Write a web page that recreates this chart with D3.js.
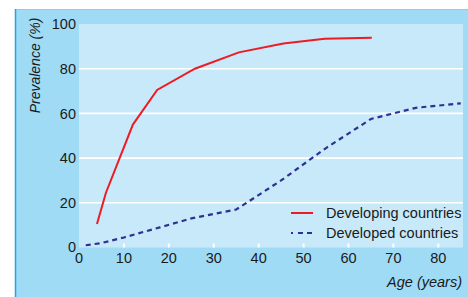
<!DOCTYPE html>
<html>
<head>
<meta charset="utf-8">
<script src="https://cdn.jsdelivr.net/npm/d3@7"></script>
<style>
  body { margin: 0; background: #fff; }
  svg text { font-family: "Liberation Sans", Arial, sans-serif; fill: #1a1a1a; }
</style>
</head>
<body>
<div id="chart"></div>
<script>
// data (age in years, prevalence in %)
var developingAge = [4, 6, 12, 17.4, 25.8, 35.6, 45.5, 54.7, 65.2];
var developingVal = [10.5, 24.5, 55, 70.5, 80, 87.3, 91.3, 93.4, 93.8];
var developedAge = [1.5, 5, 10, 18, 25, 35, 45, 55, 65, 75, 85];
var developedVal = [1, 2, 4.5, 9, 13, 17, 30, 44.5, 57.5, 62.5, 64.5];
var xTicks = [0, 10, 20, 30, 40, 50, 60, 70, 80];
var yTicks = [0, 20, 40, 60, 80, 100];
var seriesNames = ["Developing countries", "Developed countries"];

var width = 468, height = 297;
var plotLeft = 79, plotRight = 463, plotTop = 24, plotBottom = 247.5;

var x = d3.scaleLinear().domain([0, 85.5]).range([plotLeft, plotRight]);
var y = d3.scaleLinear().domain([0, 100]).range([plotBottom, plotTop]);

var svg = d3.select("#chart").append("svg")
  .attr("width", width)
  .attr("height", height);

// outer panel
svg.append("rect")
  .attr("x", 15).attr("y", 9)
  .attr("width", width - 15).attr("height", height - 9)
  .attr("fill", "#a0dbf6");
svg.append("line")
  .attr("x1", 15).attr("x2", width).attr("y1", 9.5).attr("y2", 9.5)
  .attr("stroke", "#86cff1").attr("stroke-width", 1);
svg.append("line")
  .attr("x1", 15.5).attr("x2", 15.5).attr("y1", 9).attr("y2", height)
  .attr("stroke", "#1ba8e6").attr("stroke-width", 1.5);

// plot area
svg.append("rect")
  .attr("x", plotLeft).attr("y", plotTop)
  .attr("width", plotRight - plotLeft).attr("height", plotBottom - plotTop)
  .attr("fill", "#c7e9f9");

// gridlines
svg.append("g").selectAll("line")
  .data(yTicks.filter(function(d) { return d > 0 && d < 100; }))
  .enter().append("line")
  .attr("x1", plotLeft).attr("x2", plotRight)
  .attr("y1", function(d) { return y(d); })
  .attr("y2", function(d) { return y(d); })
  .attr("stroke", "#fff").attr("stroke-width", 1.6);

// small x ticks
svg.append("g").selectAll("line")
  .data(xTicks.filter(function(d) { return d > 0; }))
  .enter().append("line")
  .attr("x1", function(d) { return x(d); })
  .attr("x2", function(d) { return x(d); })
  .attr("y1", plotBottom - 4).attr("y2", plotBottom)
  .attr("stroke", "#fff").attr("stroke-width", 2);

// tick labels
svg.append("g").selectAll("text")
  .data(xTicks)
  .enter().append("text")
  .attr("x", function(d) { return x(d); })
  .attr("y", 263)
  .attr("text-anchor", "middle")
  .attr("font-size", "14.5px")
  .text(function(d) { return d; });

svg.append("g").selectAll("text")
  .data(yTicks)
  .enter().append("text")
  .attr("x", 76)
  .attr("y", function(d) { return d === 0 ? 251.5 : y(d) + 5.2; })
  .attr("text-anchor", "end")
  .attr("font-size", "14.5px")
  .text(function(d) { return d; });

// axis titles
svg.append("text")
  .attr("transform", "translate(40,65.5) rotate(-90)")
  .attr("text-anchor", "middle")
  .attr("font-size", "14px")
  .attr("font-style", "italic")
  .text("Prevalence (%)");

svg.append("text")
  .attr("x", 462).attr("y", 287)
  .attr("text-anchor", "end")
  .attr("font-size", "14.5px")
  .attr("font-style", "italic")
  .text("Age (years)");

// lines
var line = d3.line()
  .x(function(d) { return x(d[0]); })
  .y(function(d) { return y(d[1]); });

svg.append("path")
  .attr("d", line(d3.zip(developedAge, developedVal)))
  .attr("fill", "none")
  .attr("stroke", "#2e3192")
  .attr("stroke-width", 2.2)
  .attr("stroke-dasharray", "5,4");

svg.append("path")
  .attr("d", line(d3.zip(developingAge, developingVal)))
  .attr("fill", "none")
  .attr("stroke", "#ed1c24")
  .attr("stroke-width", 2);

// legend
var legend = svg.append("g");
var legendY = [213, 233];
legend.selectAll("line")
  .data(seriesNames)
  .enter().append("line")
  .attr("x1", 291).attr("x2", 313)
  .attr("y1", function(d, i) { return legendY[i]; })
  .attr("y2", function(d, i) { return legendY[i]; })
  .attr("stroke", function(d, i) { return i === 0 ? "#ed1c24" : "#2e3192"; })
  .attr("stroke-width", function(d, i) { return i === 0 ? 2 : 2.2; })
  .attr("stroke-dasharray", function(d, i) { return i === 0 ? null : "2,5,5,4,5,4"; });
legend.selectAll("text")
  .data(seriesNames)
  .enter().append("text")
  .attr("x", 326)
  .attr("y", function(d, i) { return legendY[i] + 5.2; })
  .attr("font-size", "14.5px")
  .text(function(d) { return d; });
</script>
</body>
</html>
